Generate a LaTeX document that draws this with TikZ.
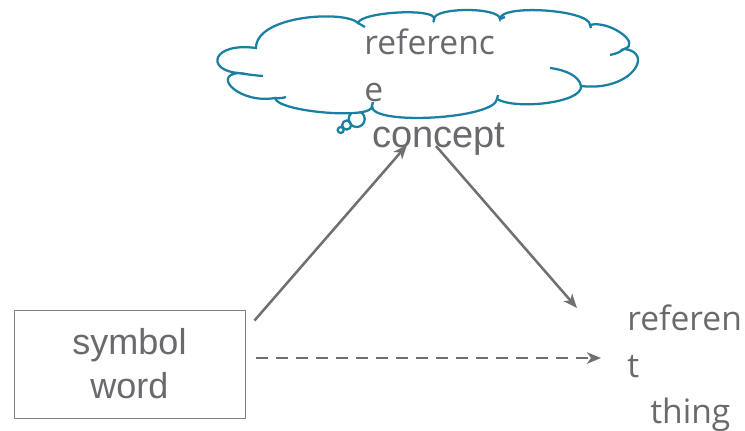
\documentclass[tikz,border=0pt]{standalone}
\usepackage{fontspec}
\setmainfont{Liberation Sans}
\newfontfamily\uifont{Open Sans}
\usetikzlibrary{arrows.meta,calc}
\definecolor{cloudteal}{RGB}{26,128,162}
\definecolor{txtgray}{RGB}{105,106,110}
\definecolor{linegray}{RGB}{112,112,115}
\definecolor{boxgray}{RGB}{128,128,128}
\begin{document}
\begin{tikzpicture}[x=0.75pt,y=-0.75pt,
  conn/.style={draw=linegray,line width=1.9pt,
    -{Stealth[length=10.5pt,width=8.5pt,inset=3pt]}},
  dashconn/.style={conn,dash pattern=on 9pt off 6pt},
  lbl/.style={text=txtgray,inner sep=0pt,font=\fontsize{27}{33}\selectfont},
  wrapped/.style={text=txtgray,inner sep=0pt,align=left,
    font=\uifont\fontsize{25.2}{35}\selectfont},
  puff/.style={draw=cloudteal,line width=1.7pt},
]
\useasboundingbox (0,0) rectangle (745,430);

% thought bubbles under the cloud
\draw[puff] (340.7,130) circle[radius=2.25pt];
\draw[puff] (346.7,125) circle[radius=3.4pt];
\draw[puff] (356.7,119) circle[radius=6pt];

% cloud outline, one arc per puff
\draw[puff,fill=white] (256,48)
  .. controls (256,15) and (345,10) .. (358,23)
  .. controls (360.7,11.7) and (436.7,7.7) .. (434,19)
  .. controls (434,7) and (500,7) .. (500,19)
  .. controls (500,3.7) and (590,9.7) .. (590,25)
  .. controls (608.7,19.7) and (642.7,43.7) .. (624,49)
  .. controls (655,52) and (632,92) .. (581,86)
  .. controls (583,103) and (515,110) .. (497,99)
  .. controls (495,119) and (370,126) .. (372,106)
  .. controls (374,120) and (277,112) .. (275,98)
  .. controls (240,104) and (212,76) .. (238,73)
  .. controls (205,70) and (212,42) .. (256,48) -- cycle;

% inner arcs where the puffs meet
\draw[puff] (238,73) .. controls (248,74.5) and (256,75.5) .. (263,76);
\draw[puff] (275,98) .. controls (279,98.5) and (283,98) .. (286,97);
\draw[puff] (358,23) .. controls (361,24.5) .. (365,27);
\draw[puff] (434,19) -- (433.5,22);
\draw[puff] (500,19) .. controls (502,17.5) .. (505,17);
\draw[puff] (590,25) -- (591,28);
\draw[puff] (624,49) .. controls (618,53) .. (610,55);
\draw[puff] (550,68) .. controls (566,70) and (579,76) .. (581,86);
\draw[puff] (497,99) -- (498,95);
\draw[puff] (372,106) -- (373,102);

% labels (base anchor sits on the last line)
\node (refc) [wrapped,anchor=base west] at (364,101) {referenc\\e};
\node (concept) [lbl,font=\fontsize{28.5}{33}\selectfont,anchor=base west]
  at (372,147) {concept};
\node (sym) [lbl,draw=boxgray,line width=0.75pt,align=center,
  minimum width=173.25pt,minimum height=81pt] at (129.5,364) {symbol\\word};
\node (referent) [wrapped,anchor=base west] at (627,377) {referen\\t};
\node (thing) [wrapped,anchor=base west] at (650,423) {thing};

% connectors
\draw[conn] ($(sym.north east)+(9,11)$) -- ($(concept.base west)+(35,-2)$);
\draw[conn] ($(concept.base west)+(64,-1)$) -- ($(referent.base west)+(-50,-69)$);
\draw[dashconn] ($(sym.east)+(10,-6)$) -- ($(referent.base west)+(-26,-19)$);
\end{tikzpicture}
\end{document}
